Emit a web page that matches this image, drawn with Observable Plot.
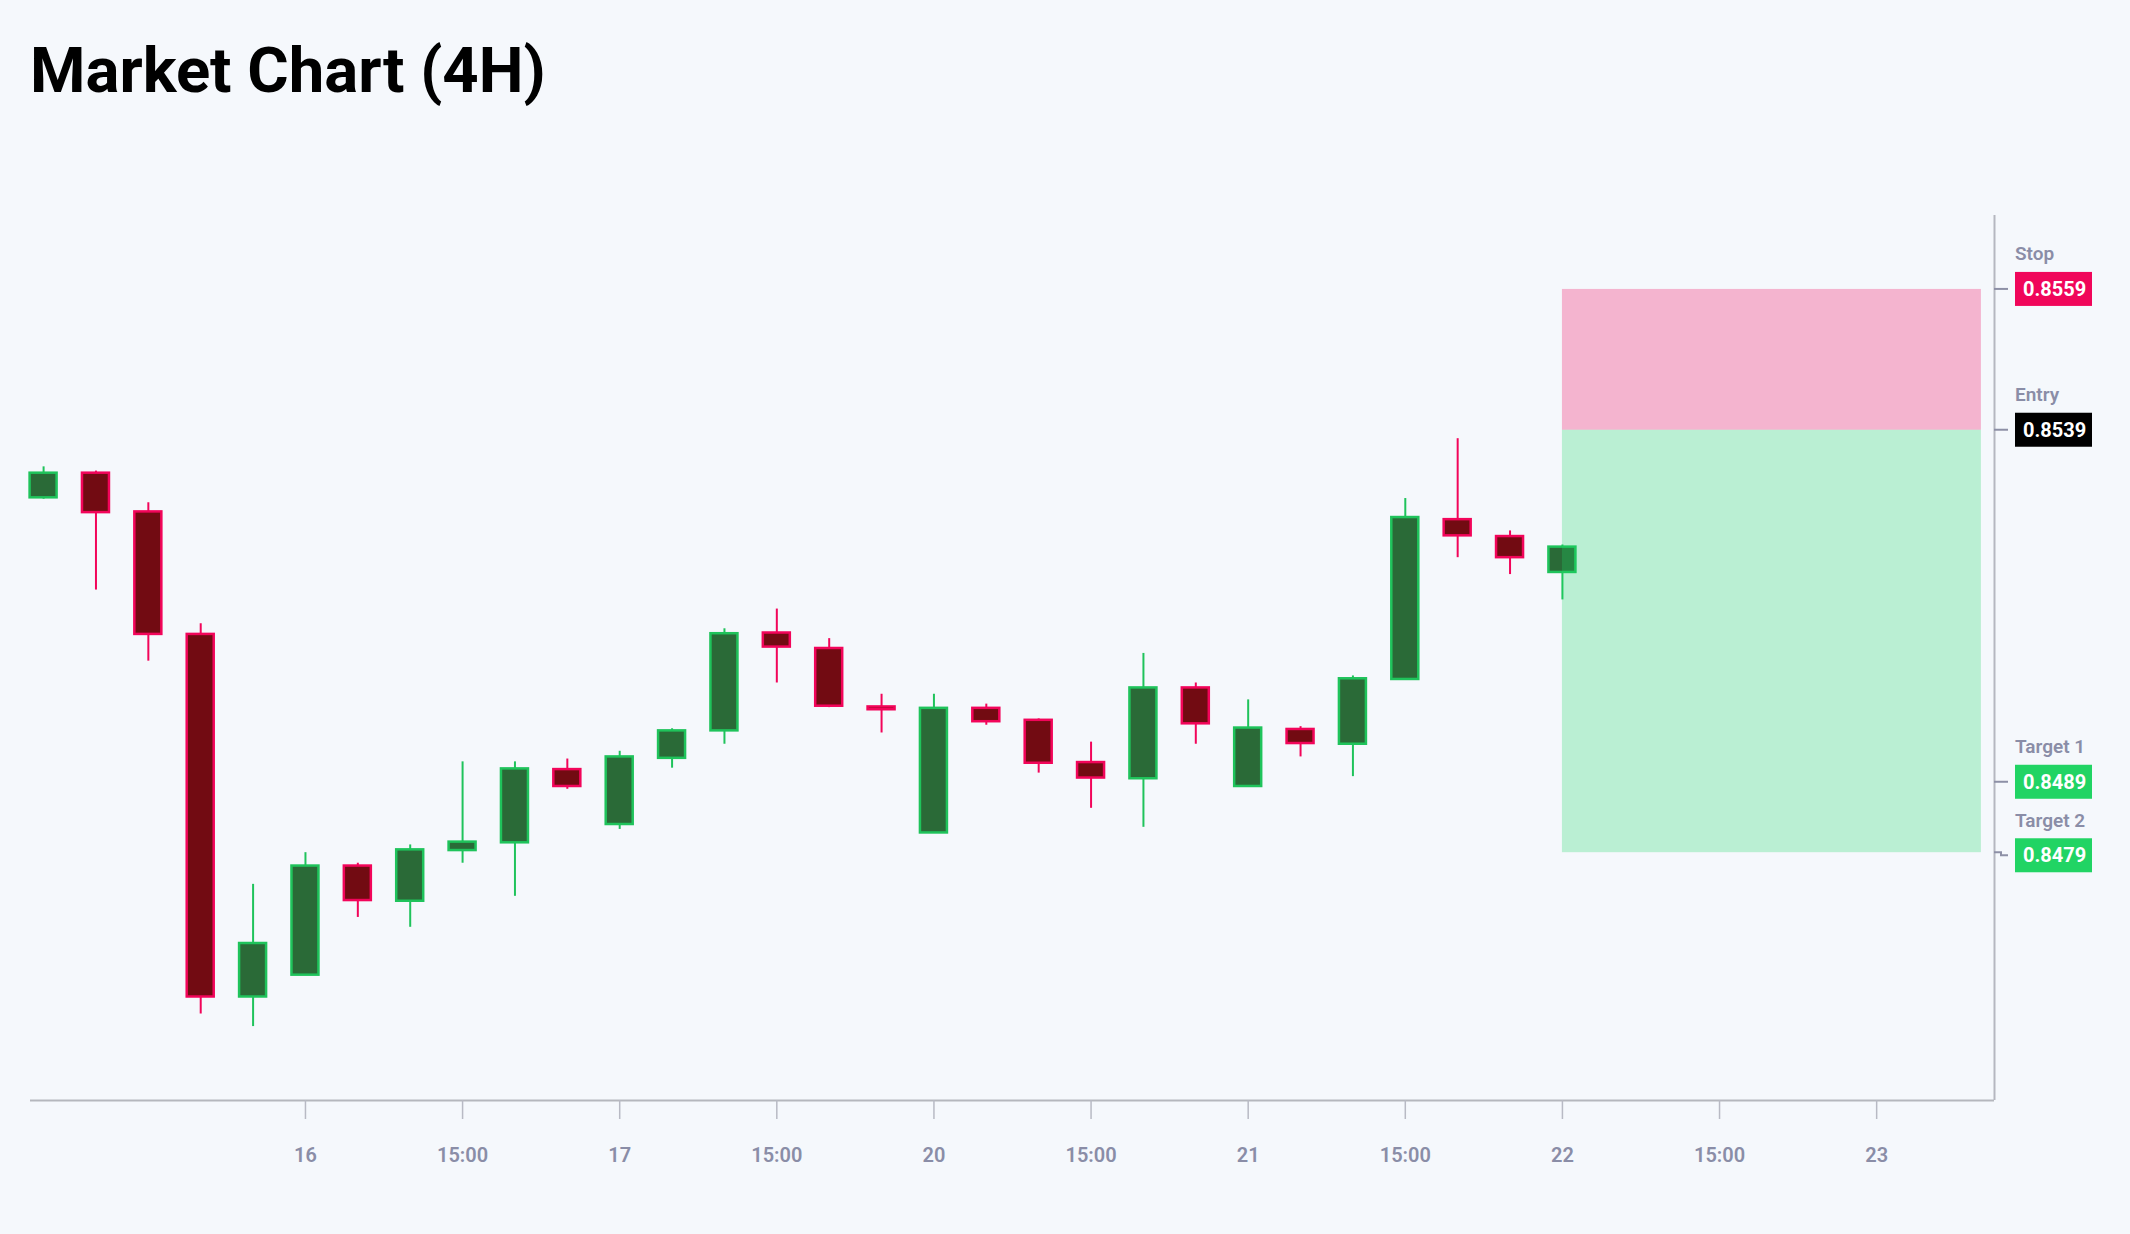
<!DOCTYPE html>
<html>
<head>
<meta charset="utf-8">
<script src="https://cdn.jsdelivr.net/npm/d3@7"></script>
<script src="https://cdn.jsdelivr.net/npm/@observablehq/plot@0.6"></script>
<style>
  html, body { margin: 0; padding: 0; background: #f5f8fc; overflow: hidden; }
  #wrap { position: relative; width: 2130px; height: 1234px; }
  #title { position: absolute; left: 30px; top: 38px; margin: 0; font-family: Roboto, sans-serif; font-weight: 700; font-size: 63.4px; line-height: 64px; color: #000; white-space: nowrap; }
  #chart { position: absolute; left: 0; top: 130px; }
  #chart svg [aria-label="x-axis tick label"] text { font-weight: 600; }
</style>
</head>
<body>
<div id="wrap">
  <h1 id="title">Market Chart (4H)</h1>
  <div id="chart"></div>
</div>
<script>
// ---- data ----
const openVals  = [0.85294,0.85329,0.85274,0.85100,0.84585,0.84616,0.84771,0.84721,0.84793,0.84804,0.84908,0.84830,0.84924,0.84963,0.85102,0.85080,0.84997,0.84818,0.84995,0.84978,0.84918,0.84895,0.85024,0.84884,0.84965,0.84944,0.85036,0.85263,0.85239,0.85188];
const highVals  = [0.85338,0.85332,0.85287,0.85115,0.84745,0.84790,0.84775,0.84801,0.84919,0.84919,0.84923,0.84934,0.84966,0.85108,0.85136,0.85094,0.85015,0.85015,0.85001,0.84980,0.84947,0.85073,0.85031,0.85007,0.84969,0.85041,0.85293,0.85378,0.85247,0.85227];
const lowVals   = [0.85292,0.85163,0.85062,0.84561,0.84543,0.84616,0.84698,0.84684,0.84775,0.84728,0.84880,0.84823,0.84910,0.84944,0.85031,0.84996,0.84960,0.84818,0.84971,0.84903,0.84853,0.84826,0.84944,0.84884,0.84926,0.84898,0.85036,0.85209,0.85185,0.85149];
const closeVals = [0.85329,0.85273,0.85100,0.84585,0.84661,0.84771,0.84722,0.84794,0.84805,0.84909,0.84884,0.84926,0.84963,0.85101,0.85082,0.84998,0.84993,0.84995,0.84976,0.84917,0.84896,0.85024,0.84973,0.84967,0.84945,0.85037,0.85266,0.85240,0.85209,0.85224];

const tickPositions = [5, 8, 11, 14, 17, 20, 23, 26, 29, 32, 35];
const tickLabels = ["16", "15:00", "17", "15:00", "20", "15:00", "21", "15:00", "22", "15:00", "23"];

const levelNames  = ["Stop", "Entry", "Target 1", "Target 2"];
const levelValues = [0.8559, 0.8539, 0.8489, 0.8479];
const levelColors = ["#f0065a", "#000000", "#21d464", "#21d464"];

const zoneStartIndex = 29;
const zoneEndIndex = 37;

// ---- build table ----
const candles = openVals.map((o, i) => ({
  i, open: o, high: highVals[i], low: lowVals[i], close: closeVals[i], up: closeVals[i] >= o
}));
const upC = candles.filter(d => d.up);
const downC = candles.filter(d => !d.up);

const GREEN_LINE = "#1fc35b", GREEN_FILL = "#2a6a37";
const RED_LINE = "#f2055a", RED_FILL = "#720b12";
const xDomain = [-0.25, 37.25];
const yDomain = [0.84438, 0.85695];

const entry = levelValues[1], stop = levelValues[0], target2 = levelValues[3];

const plot = Plot.plot({
  width: 2130,
  height: 1104,
  marginTop: 85,
  marginBottom: 134,
  marginLeft: 30,
  marginRight: 136,
  style: { fontFamily: "Roboto, sans-serif", background: "transparent", overflow: "visible" },
  x: { domain: xDomain, axis: null },
  y: { domain: yDomain, axis: null },
  marks: [
    Plot.ruleX(upC, { x: "i", y1: "low", y2: "high", stroke: GREEN_LINE, strokeWidth: 2 }),
    Plot.ruleX(downC, { x: "i", y1: "low", y2: "high", stroke: RED_LINE, strokeWidth: 2 }),
    Plot.rect(upC, { x1: "i", x2: "i", y1: "open", y2: "close", insetLeft: -13.5, insetRight: -13.5, fill: GREEN_FILL, stroke: GREEN_LINE, strokeWidth: 2.5 }),
    Plot.rect(downC, { x1: "i", x2: "i", y1: "open", y2: "close", insetLeft: -13.5, insetRight: -13.5, fill: RED_FILL, stroke: RED_LINE, strokeWidth: 2.5 }),
    Plot.rect([{ a: zoneStartIndex, b: zoneEndIndex, lo: entry, hi: stop }], { x1: "a", x2: "b", y1: "lo", y2: "hi", fill: "#f0055a", fillOpacity: 0.28 }),
    Plot.rect([{ a: zoneStartIndex, b: zoneEndIndex, lo: target2, hi: entry }], { x1: "a", x2: "b", y1: "lo", y2: "hi", fill: "#1fd665", fillOpacity: 0.27 }),
    Plot.ruleY([yDomain[0]], { stroke: "#b5b7bd", strokeWidth: 2 }),
    Plot.ruleX([xDomain[1]], { stroke: "#b5b7c0", strokeWidth: 2 }),
    Plot.axisX({
      ticks: tickPositions,
      tickFormat: d => tickLabels[tickPositions.indexOf(d)],
      tickSize: 19,
      tickPadding: 28,
      stroke: "#b8bac4",
      strokeWidth: 1.5,
      fill: "#8a8da7",
      fontSize: 20
    })
  ]
});

document.getElementById("chart").appendChild(plot);

// ---- right-hand level labels, positioned with Plot's scales ----
const xs = plot.scale("x"), ys = plot.scale("y");
const axisX = xs.apply(xDomain[1]);
const svg = d3.select(plot);
const levels = levelValues.map((v, k) => ({ name: levelNames[k], v, color: levelColors[k], y: ys.apply(v) }));
levels.sort((a, b) => a.y - b.y);
const minGap = 73.5;
levels.forEach((d, k) => {
  d.ly = d.y;
  if (k > 0 && d.ly - levels[k - 1].ly < minGap) d.ly = levels[k - 1].ly + minGap;
});
const g = svg.append("g").attr("aria-label", "levels").attr("text-anchor", "start");
levels.forEach(d => {
  g.append("path")
    .attr("d", `M${axisX},${d.y}H${axisX + 7}V${d.ly}H${axisX + 14}`)
    .attr("fill", "none").attr("stroke", "#8d90a6").attr("stroke-width", 2);
  g.append("rect")
    .attr("x", axisX + 21).attr("y", d.ly - 17).attr("width", 77).attr("height", 34)
    .attr("fill", d.color);
  g.append("text")
    .attr("x", axisX + 29).attr("y", d.ly).attr("dy", "0.36em")
    .attr("text-anchor", "start")
    .attr("fill", "#fff").attr("font-size", 20).attr("font-weight", 700)
    .attr("font-family", "Roboto, sans-serif")
    .text(d.v.toFixed(4));
  g.append("text")
    .attr("x", axisX + 21).attr("y", d.ly - 28.5)
    .attr("text-anchor", "start")
    .attr("fill", "#8a8da7").attr("font-size", 19).attr("font-weight", 600)
    .attr("font-family", "Roboto, sans-serif")
    .text(d.name);
});
</script>
</body>
</html>
